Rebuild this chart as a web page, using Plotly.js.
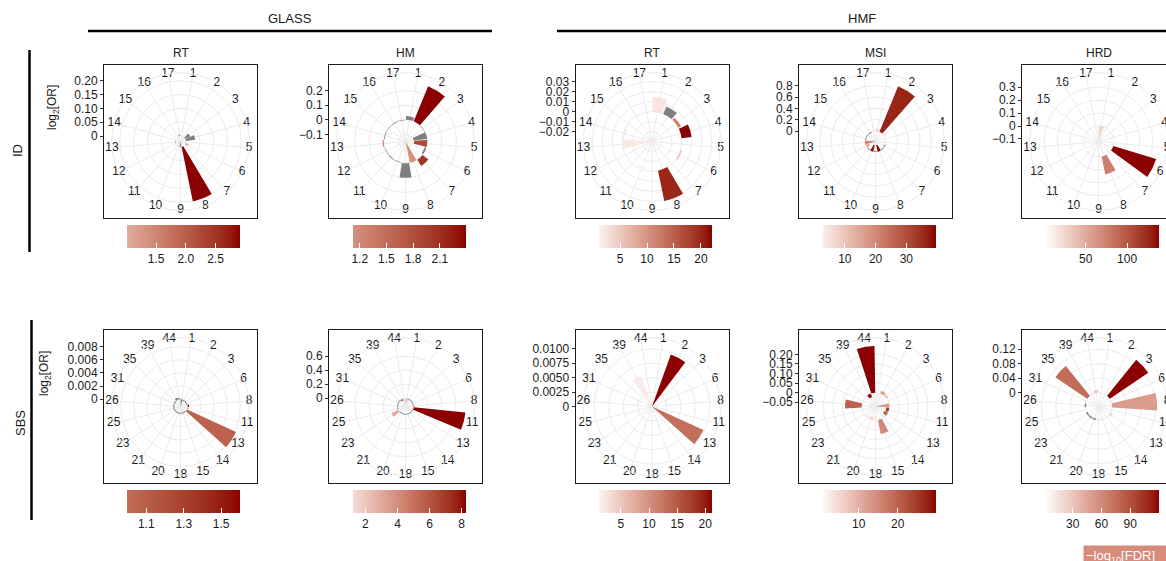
<!DOCTYPE html>
<html><head><meta charset="utf-8">
<script src="https://cdn.plot.ly/plotly-3.0.1.min.js"></script>
<style>html,body{margin:0;padding:0;overflow:hidden;background:#fff}</style>
</head><body><div id="chart"></div>
<script>
// ---------------- DATA ----------------
const ID_CATS  = ['1','2','3','4','5','6','7','8','9','10','11','12','13','14','15','16','17'];
const SBS_CATS = ['1','2','3','6','8','11','13','14','15','18','20','21','23','25','26','31','35','39','44'];

// ID signatures (order = ID_CATS); null = no bar; FDR null = not significant (grey)
const glassRtIdLogOR = [null,null,0.02,0.034,null,0.01,null,0.2015,-0.0199,null,null,null,-0.003,null,null,null,0.006];
const glassRtIdFDR   = [null,null,null,null,null,1.02,null,2.92,null,null,null,null,1.4,null,null,null,1.3];
const glassHmIdLogOR = [0.025,0.26,-0.004,-0.094,-0.09,-0.012,0.05,-0.145,0.10,-0.004,-0.005,-0.004,0.008,-0.005,-0.004,-0.005,-0.004];
const glassHmIdFDR   = [null,2.389,null,null,1.85,null,2.05,1.118,null,null,null,null,1.3,null,null,null,null];
const hmfRtIdLogOR   = [0.015,0.008,0.003,0.010,null,0.0015,null,0.031,null,-0.003,null,null,-0.0298,-0.002,null,null,null];
const hmfRtIdFDR     = [2.5,null,12,22.04,null,6,null,20,null,1.11,null,null,2.0,2,null,null,null];
const hmfMsiIdLogOR  = [0.04,0.87,0.03,null,-0.04,-0.015,-0.015,-0.12,-0.015,-0.12,-0.015,-0.06,-0.185,-0.015,-0.015,-0.015,0.03];
const hmfMsiIdFDR    = [6,36,4,null,3,null,null,39.5,null,38,null,14,22,null,null,null,2.74];
const hmfHrdIdLogOR  = [-0.10,0.01,null,null,null,0.347,null,0.14,null,null,null,-0.01,-0.12,null,null,null,null];
const hmfHrdIdFDR    = [25,10,null,null,null,138,null,75,null,null,null,1.3,8,null,null,null,null];

// SBS signatures (order = SBS_CATS)
const glassRtSbsLogOR = [-0.0011,-0.00015,-0.00015,-0.00015,0.0002,0.0001,0.0082,-0.00015,-0.00015,-0.00015,-0.00015,-0.00015,-0.00015,-0.00015,-0.00015,-0.00015,-0.00015,0.0003,0.0002];
const glassRtSbsFDR   = [null,null,null,null,1.603,1.0,1.08,null,null,null,null,null,null,null,null,null,null,null,null];
const glassHmSbsLogOR = [-0.06,-0.012,-0.012,-0.012,-0.012,0.74,-0.012,-0.012,-0.012,-0.012,-0.012,-0.012,0.107,-0.012,-0.012,-0.012,-0.012,-0.03,-0.117];
const glassHmSbsFDR   = [2.5,null,null,null,null,8.25,null,null,null,null,null,null,2.8,null,null,null,null,null,1.19];
const hmfRtSbsLogOR   = [null,0.0096,null,null,null,null,0.0098,null,null,null,null,null,null,null,null,null,null,0.0056,null];
const hmfRtSbsFDR     = [null,21.2,null,null,null,null,13,null,null,null,null,null,null,null,null,null,null,1.6,null];
const hmfMsiSbsLogOR  = [null,0.015,0.01,null,-0.07,-0.015,-0.02,null,0.074,-0.02,-0.015,-0.01,null,null,0.087,null,null,-0.02,0.243];
const hmfMsiSbsFDR    = [null,12,8,null,13,25,20,null,15,3,5,3,null,null,20,null,null,29,29.7];
const hmfHrdSbsLogOR  = [0.004,null,0.128,null,0.124,null,0.006,null,null,-0.004,-0.004,-0.004,-0.004,-0.038,-0.004,null,0.106,null,0.008];
const hmfHrdSbsFDR    = [8,null,119.6,null,50,null,20,null,null,15,null,null,null,1.5,null,null,75,null,25];

// radial (log2 OR) axis limits: [value at centre, value at data radius]
const glassRtIdRange = [-0.0199,0.2015], glassHmIdRange = [-0.149,0.27], hmfRtIdRange = [-0.0298,0.0314],
      hmfMsiIdRange = [-0.185,0.895], hmfHrdIdRange = [-0.12,0.354];
const glassRtSbsRange = [-0.0011,0.00821], glassHmSbsRange = [-0.117,0.754], hmfRtSbsRange = [0,0.0106],
      hmfMsiSbsRange = [-0.072,0.247], hmfHrdSbsRange = [-0.038,0.131];

// radial tick values / labels
const glassRtIdTicks = [0,0.05,0.1,0.15,0.2],            glassRtIdTickText = ['0','0.05','0.10','0.15','0.20'];
const glassHmIdTicks = [-0.1,0,0.1,0.2],                  glassHmIdTickText = ['\u22120.1','0','0.1','0.2'];
const hmfRtIdTicks = [-0.02,-0.01,0,0.01,0.02,0.03],      hmfRtIdTickText = ['\u22120.02','\u22120.01','0','0.01','0.02','0.03'];
const hmfMsiIdTicks = [0,0.2,0.4,0.6,0.8],                hmfMsiIdTickText = ['0','0.2','0.4','0.6','0.8'];
const hmfHrdIdTicks = [-0.1,0,0.1,0.2,0.3],               hmfHrdIdTickText = ['\u22120.1','0','0.1','0.2','0.3'];
const glassRtSbsTicks = [0,0.002,0.004,0.006,0.008],      glassRtSbsTickText = ['0','0.002','0.004','0.006','0.008'];
const glassHmSbsTicks = [0,0.2,0.4,0.6],                  glassHmSbsTickText = ['0','0.2','0.4','0.6'];
const hmfRtSbsTicks = [0,0.0025,0.005,0.0075,0.01],       hmfRtSbsTickText = ['0','0.0025','0.0050','0.0075','0.0100'];
const hmfMsiSbsTicks = [-0.05,0,0.05,0.1,0.15,0.2],       hmfMsiSbsTickText = ['\u22120.05','0','0.05','0.10','0.15','0.20'];
const hmfHrdSbsTicks = [0,0.04,0.08,0.12],                hmfHrdSbsTickText = ['0','0.04','0.08','0.12'];

// colour bar (-log10 FDR) limits and ticks
const glassRtIdCb = [1.02,2.92],  glassRtIdCbTicks = [1.5,2.0,2.5],   glassRtIdCbText = ['1.5','2.0','2.5'];
const glassHmIdCb = [1.118,2.389],glassHmIdCbTicks = [1.2,1.5,1.8,2.1], glassHmIdCbText = ['1.2','1.5','1.8','2.1'];
const hmfRtIdCb = [1.11,22.04],   hmfRtIdCbTicks = [5,10,15,20],      hmfRtIdCbText = ['5','10','15','20'];
const hmfMsiIdCb = [2.74,39.5],   hmfMsiIdCbTicks = [10,20,30],       hmfMsiIdCbText = ['10','20','30'];
const hmfHrdIdCb = [1.3,138],     hmfHrdIdCbTicks = [50,100],         hmfHrdIdCbText = ['50','100'];
const glassRtSbsCb = [1.0,1.603], glassRtSbsCbTicks = [1.1,1.3,1.5],  glassRtSbsCbText = ['1.1','1.3','1.5'];
const glassHmSbsCb = [1.19,8.25], glassHmSbsCbTicks = [2,4,6,8],      glassHmSbsCbText = ['2','4','6','8'];
const hmfRtSbsCb = [1.1,21.2],    hmfRtSbsCbTicks = [5,10,15,20],     hmfRtSbsCbText = ['5','10','15','20'];
const hmfMsiSbsCb = [0.7,29.7],   hmfMsiSbsCbTicks = [10,20],         hmfMsiSbsCbText = ['10','20'];
const hmfHrdSbsCb = [1.5,119.6],  hmfHrdSbsCbTicks = [30,60,90],      hmfHrdSbsCbText = ['30','60','90'];

const COLUMN_TITLES = ['RT','HM','RT','MSI','HRD'];
const GROUPS = ['GLASS','HMF'];
const ROWS = ['ID','SBS'];

// ---------------- LAYOUT CONSTANTS ----------------
const W = 1200, H = 561;
const BOX = 153, HALF = BOX/2, R_OUT = BOX*0.45, R_DATA = BOX*0.4;
const COL_CX = [180.5,405.5,652,875.5,1098.5];
const ROW_CY = [141.5,406.5];
const GRID = '#EBEBEB';
const FONT = 'Liberation Sans, Arial, Helvetica, sans-serif';
const TXT = '#1a1a1a';
const px = x => x/W, py = y => 1 - y/H;

// Lab interpolation white -> darkred (ggplot-like gradient)
function rgb2lab(c){const lin=v=>{v/=255;return v>0.04045?Math.pow((v+0.055)/1.055,2.4):v/12.92;};
  const R=lin(c[0]),G=lin(c[1]),B=lin(c[2]);
  const x=(R*0.4124+G*0.3576+B*0.1805)/0.95047,y=R*0.2126+G*0.7152+B*0.0722,z=(R*0.0193+G*0.1192+B*0.9505)/1.08883;
  const f=t=>t>0.008856?Math.cbrt(t):7.787*t+16/116;const fx=f(x),fy=f(y),fz=f(z);
  return [116*fy-16,500*(fx-fy),200*(fy-fz)];}
function lab2rgb(l){let y=(l[0]+16)/116,x=l[1]/500+y,z=y-l[2]/200;
  const f=t=>t*t*t>0.008856?t*t*t:(t-16/116)/7.787;x=0.95047*f(x);y=f(y);z=1.08883*f(z);
  const r=x*3.2406+y*-1.5372+z*-0.4986,g=x*-0.9689+y*1.8758+z*0.0415,b=x*0.0557+y*-0.2040+z*1.0570;
  const gm=v=>v>0.0031308?1.055*Math.pow(v,1/2.4)-0.055:12.92*v;
  return 'rgb('+[r,g,b].map(v=>Math.round(Math.max(0,Math.min(1,gm(v)))*255)).join(',')+')';}
const LAB_LO = rgb2lab([255,255,255]), LAB_HI = rgb2lab([139,0,0]);
const mix = t => lab2rgb(LAB_LO.map((v,i)=>v+(LAB_HI[i]-v)*t));
function colorscale(cmin,cmax){const s=[];for(let j=0;j<=16;j++){const t=j/16;s.push([t,mix((cmin+t*(cmax-cmin))/cmax)]);}return s;}

const panels = [
 {cats:ID_CATS,v:glassRtIdLogOR,f:glassRtIdFDR,rr:glassRtIdRange,tk:glassRtIdTicks,tt:glassRtIdTickText,cb:glassRtIdCb,cbt:glassRtIdCbTicks,cbx:glassRtIdCbText},
 {cats:ID_CATS,v:glassHmIdLogOR,f:glassHmIdFDR,rr:glassHmIdRange,tk:glassHmIdTicks,tt:glassHmIdTickText,cb:glassHmIdCb,cbt:glassHmIdCbTicks,cbx:glassHmIdCbText},
 {cats:ID_CATS,v:hmfRtIdLogOR,f:hmfRtIdFDR,rr:hmfRtIdRange,tk:hmfRtIdTicks,tt:hmfRtIdTickText,cb:hmfRtIdCb,cbt:hmfRtIdCbTicks,cbx:hmfRtIdCbText},
 {cats:ID_CATS,v:hmfMsiIdLogOR,f:hmfMsiIdFDR,rr:hmfMsiIdRange,tk:hmfMsiIdTicks,tt:hmfMsiIdTickText,cb:hmfMsiIdCb,cbt:hmfMsiIdCbTicks,cbx:hmfMsiIdCbText},
 {cats:ID_CATS,v:hmfHrdIdLogOR,f:hmfHrdIdFDR,rr:hmfHrdIdRange,tk:hmfHrdIdTicks,tt:hmfHrdIdTickText,cb:hmfHrdIdCb,cbt:hmfHrdIdCbTicks,cbx:hmfHrdIdCbText},
 {cats:SBS_CATS,v:glassRtSbsLogOR,f:glassRtSbsFDR,rr:glassRtSbsRange,tk:glassRtSbsTicks,tt:glassRtSbsTickText,cb:glassRtSbsCb,cbt:glassRtSbsCbTicks,cbx:glassRtSbsCbText},
 {cats:SBS_CATS,v:glassHmSbsLogOR,f:glassHmSbsFDR,rr:glassHmSbsRange,tk:glassHmSbsTicks,tt:glassHmSbsTickText,cb:glassHmSbsCb,cbt:glassHmSbsCbTicks,cbx:glassHmSbsCbText},
 {cats:SBS_CATS,v:hmfRtSbsLogOR,f:hmfRtSbsFDR,rr:hmfRtSbsRange,tk:hmfRtSbsTicks,tt:hmfRtSbsTickText,cb:hmfRtSbsCb,cbt:hmfRtSbsCbTicks,cbx:hmfRtSbsCbText},
 {cats:SBS_CATS,v:hmfMsiSbsLogOR,f:hmfMsiSbsFDR,rr:hmfMsiSbsRange,tk:hmfMsiSbsTicks,tt:hmfMsiSbsTickText,cb:hmfMsiSbsCb,cbt:hmfMsiSbsCbTicks,cbx:hmfMsiSbsCbText},
 {cats:SBS_CATS,v:hmfHrdSbsLogOR,f:hmfHrdSbsFDR,rr:hmfHrdSbsRange,tk:hmfHrdSbsTicks,tt:hmfHrdSbsTickText,cb:hmfHrdSbsCb,cbt:hmfHrdSbsCbTicks,cbx:hmfHrdSbsCbText}
];

const traces = [];
const layout = {width:W,height:H,margin:{l:0,r:0,t:0,b:0},paper_bgcolor:'#fff',plot_bgcolor:'#fff',
  showlegend:false,font:{family:FONT,color:TXT,size:12},annotations:[],shapes:[]};

function ann(text,x,y,opts){return Object.assign({text:text,x:px(x),y:py(y),xref:'paper',yref:'paper',showarrow:false,
  xanchor:'center',yanchor:'middle',font:{family:FONT,size:12,color:TXT}},opts||{});}

panels.forEach((p,k)=>{
  const col = k%5, row = Math.floor(k/5);
  const cx = COL_CX[col], cy = ROW_CY[row];
  const sub = k===0 ? '' : String(k+1);
  const rmin = p.rr[0], rmax = p.rr[1];
  const s = R_DATA/(rmax-rmin);
  const rOuter = rmin + R_OUT/s;
  const N = p.cats.length, step = 360/N;
  const theta = p.cats.map((c,i)=>(i+0.5)*step);

  layout['polar'+sub] = {
    domain:{x:[px(cx-R_OUT),px(cx+R_OUT)], y:[py(cy+R_OUT),py(cy-R_OUT)]},
    bgcolor:'rgba(0,0,0,0)', hole:0, barmode:'overlay',
    radialaxis:{range:[rmin,rOuter],tickvals:p.tk.filter(t=>t>=rmin&&t<=rOuter),showticklabels:false,ticks:'',
      showline:false,showgrid:true,gridcolor:GRID,gridwidth:1},
    angularaxis:{type:'linear',thetaunit:'degrees',direction:'clockwise',rotation:90,tickvals:theta,
      showticklabels:false,ticks:'',showgrid:true,gridcolor:GRID,gridwidth:1,showline:true,linecolor:GRID,linewidth:1}
  };
  const gi = [], ci = [];
  p.v.forEach((v,i)=>{ if(v===null) return; if(p.f[i]===null) gi.push(i); else ci.push(i); });
  traces.push({type:'barpolar',subplot:'polar'+sub,r:gi.map(i=>p.v[i]),theta:gi.map(i=>theta[i]),
    base:gi.map(()=>0),width:gi.map(()=>0.9*step),marker:{color:'#7f7f7f',line:{width:0}},hoverinfo:'skip'});
  traces.push({type:'barpolar',subplot:'polar'+sub,r:ci.map(i=>p.v[i]),theta:ci.map(i=>theta[i]),
    base:ci.map(()=>0),width:ci.map(()=>0.9*step),hoverinfo:'skip',
    marker:{color:ci.map(i=>p.f[i]),colorscale:colorscale(p.cb[0],p.cb[1]),cmin:p.cb[0],cmax:p.cb[1],
      line:{width:0},showscale:true,
      colorbar:{orientation:'h',x:px(cx+3.5),xanchor:'center',y:py(row===0?225:490),yanchor:'top',
        len:113,lenmode:'pixels',thickness:23,thicknessmode:'pixels',outlinewidth:0,xpad:0,ypad:0,
        ticks:'inside',ticklen:5,tickwidth:1,tickcolor:'#ffffff',tickvals:p.cbt,ticktext:p.cbx,
        tickfont:{family:FONT,size:12,color:TXT}}}});
  traces.push({type:'scatterpolar',subplot:'polar'+sub,r:theta.map(()=>rOuter),theta:theta,text:p.cats,
    mode:'text',textposition:'middle center',textfont:{family:FONT,size:12,color:TXT},cliponaxis:false,hoverinfo:'skip'});

  layout['xaxis'+sub] = {domain:[px(cx-HALF),px(cx+HALF)],range:[0,1],anchor:'y'+sub,showline:true,mirror:true,
    linecolor:'#1a1a1a',linewidth:1,showgrid:false,zeroline:false,showticklabels:false,ticks:'',fixedrange:true};
  layout['yaxis'+sub] = {domain:[py(cy+HALF),py(cy-HALF)],range:[rmin-HALF/s,rmin+HALF/s],anchor:'x'+sub,
    showline:true,mirror:true,linecolor:'#1a1a1a',linewidth:1,showgrid:false,zeroline:false,
    tickvals:p.tk,ticktext:p.tt,ticks:'outside',ticklen:3,tickcolor:'#333',tickfont:{family:FONT,size:12,color:TXT},fixedrange:true};
  traces.push({type:'scatter',x:[],y:[],xaxis:'x'+sub,yaxis:'y'+sub,hoverinfo:'skip'});

  if (row===0) layout.annotations.push(ann(COLUMN_TITLES[col],cx,53));
});

layout.annotations.push(
  ann(GROUPS[0],290,19,{font:{family:FONT,size:13,color:TXT}}),
  ann(GROUPS[1],862,19,{font:{family:FONT,size:13,color:TXT}}),
  ann(ROWS[0],17,151,{textangle:-90,font:{family:FONT,size:13,color:TXT}}),
  ann(ROWS[1],20,423,{textangle:-90,font:{family:FONT,size:13,color:TXT}}),
  ann('log<sub>2</sub>[OR]',53,108,{textangle:-90}),
  ann('log<sub>2</sub>[OR]',45,374,{textangle:-90}),
  ann('\u2212log<sub>10</sub>[FDR]    ',1083,545,{xanchor:'left',yanchor:'top',bgcolor:'#D68B7B',borderpad:2,
      font:{family:FONT,size:13,color:'#ffffff'}})
);
const lineStyle = {color:'#000',width:2.5};
layout.shapes.push(
  {type:'line',xref:'paper',yref:'paper',x0:px(88),x1:px(492),y0:py(31),y1:py(31),line:lineStyle},
  {type:'line',xref:'paper',yref:'paper',x0:px(557),x1:px(1200),y0:py(31),y1:py(31),line:lineStyle},
  {type:'line',xref:'paper',yref:'paper',x0:px(29.5),x1:px(29.5),y0:py(50),y1:py(252),line:lineStyle},
  {type:'line',xref:'paper',yref:'paper',x0:px(31.5),x1:px(31.5),y0:py(320),y1:py(520),line:lineStyle}
);

Plotly.newPlot('chart',traces,layout,{displayModeBar:false,staticPlot:true});
</script></body></html>
